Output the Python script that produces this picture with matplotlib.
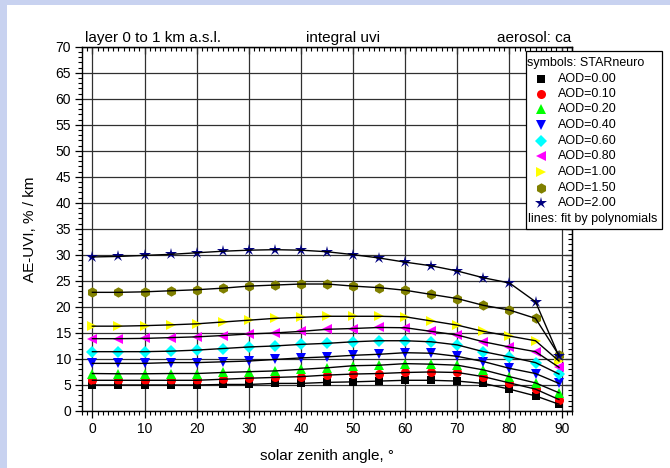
import matplotlib
matplotlib.use("Agg")
import matplotlib.pyplot as plt
from matplotlib.patches import Rectangle
from matplotlib.lines import Line2D
from matplotlib.ticker import MultipleLocator

plt.rcParams['font.family'] = ['Liberation Sans', 'DejaVu Sans']

sza = [0, 5, 10, 15, 20, 25, 30, 35, 40, 45, 50, 55, 60, 65, 70, 75, 80, 85, 89.5]

aod_labels = ["AOD=0.00", "AOD=0.10", "AOD=0.20", "AOD=0.40", "AOD=0.60",
              "AOD=0.80", "AOD=1.00", "AOD=1.50", "AOD=2.00"]

aod_000 = [5.0, 5.0, 5.0, 5.0, 5.0, 5.1, 5.1, 5.3, 5.3, 5.5, 5.6, 5.75, 5.9, 5.9, 5.75, 5.3, 4.2, 2.9, 1.3]
aod_010 = [5.9, 5.9, 5.9, 5.9, 5.9, 6.1, 6.3, 6.45, 6.6, 6.9, 7.1, 7.2, 7.4, 7.5, 7.4, 6.6, 5.4, 4.2, 2.2]
aod_020 = [7.2, 7.15, 7.15, 7.2, 7.2, 7.4, 7.55, 7.7, 8.0, 8.3, 8.7, 8.8, 9.1, 9.0, 8.8, 7.9, 6.6, 5.4, 3.5]
aod_040 = [9.15, 9.15, 9.15, 9.3, 9.3, 9.45, 9.6, 9.9, 10.2, 10.4, 10.7, 10.9, 11.2, 11.1, 10.5, 9.5, 8.2, 7.2, 5.3]
aod_060 = [11.4, 11.4, 11.4, 11.5, 11.7, 12.0, 12.3, 12.5, 12.8, 13.0, 13.3, 13.5, 13.5, 13.3, 12.7, 11.4, 10.4, 9.3, 7.1]
aod_080 = [13.9, 13.9, 13.95, 14.1, 14.25, 14.5, 14.8, 15.0, 15.3, 15.7, 15.85, 16.05, 16.0, 15.3, 14.6, 13.3, 12.3, 11.4, 8.4]
aod_100 = [16.3, 16.3, 16.4, 16.55, 16.75, 17.1, 17.45, 17.8, 18.0, 18.2, 18.2, 18.2, 18.1, 17.3, 16.5, 15.3, 14.4, 13.5, 9.6]
aod_150 = [22.8, 22.8, 22.9, 23.1, 23.3, 23.6, 24.0, 24.2, 24.4, 24.4, 24.0, 23.7, 23.2, 22.4, 21.6, 20.3, 19.4, 17.8, 10.7]
aod_200 = [29.6, 29.7, 29.9, 30.1, 30.4, 30.7, 30.9, 31.0, 30.9, 30.6, 30.05, 29.4, 28.6, 27.9, 26.9, 25.6, 24.6, 21.0, 10.5]

series = [aod_000, aod_010, aod_020, aod_040, aod_060, aod_080, aod_100, aod_150, aod_200]
markers = ['s', 'o', '^', 'v', 'D', '<', '>', 'h', '*']
colors = ['#000000', '#FF0000', '#00FF00', '#0000FF', '#00FFFF', '#FF00FF', '#FFFF00', '#808000', '#000080']
msizes = [5.5, 6.5, 7, 7, 6, 7, 7, 7.5, 9]

W, H = 670, 468
fig = plt.figure(figsize=(W / 100, H / 100), dpi=100)
fig.patch.set_facecolor('#C8D2F0')
fig.add_artist(Rectangle((7 / W, 0), 1, 1 - 5 / H, transform=fig.transFigure,
                         facecolor='white', edgecolor='none', zorder=0))

def fx(px):
    return px / W

def fy(py):
    return 1 - py / H

ax = fig.add_axes([fx(82), fy(411), fx(572) - fx(82), fy(46.7) - fy(411)])
ax.set_xlim(-2, 92)
ax.set_ylim(0, 70)

for ys, m, c, ms in zip(series, markers, colors, msizes):
    ax.plot(sza, ys, linestyle='none', marker=m, color=c, markersize=ms,
            markeredgewidth=0, zorder=3)
    ax.plot(sza, ys, color='black', linewidth=1.0, zorder=4)

ax.xaxis.set_major_locator(MultipleLocator(10))
ax.xaxis.set_minor_locator(MultipleLocator(1))
ax.yaxis.set_major_locator(MultipleLocator(5))
ax.yaxis.set_minor_locator(MultipleLocator(1))
ax.set_xticks(range(0, 91, 10))
ax.grid(True, which='major', color='#303030', linewidth=0.9)
ax.set_axisbelow(True)
ax.tick_params(which='both', direction='out', labelsize=10, colors='black', pad=3)
ax.tick_params(which='major', length=5, width=0.9)
ax.tick_params(which='minor', length=3, width=0.8)
for s in ax.spines.values():
    s.set_linewidth(1.0)

secx = ax.secondary_xaxis('top')
secx.xaxis.set_major_locator(MultipleLocator(10))
secx.xaxis.set_minor_locator(MultipleLocator(1))
secx.tick_params(which='both', direction='in', labeltop=False)
secx.tick_params(which='major', length=5, width=0.9)
secx.tick_params(which='minor', length=3, width=0.8)
secy = ax.secondary_yaxis('right')
secy.yaxis.set_major_locator(MultipleLocator(5))
secy.yaxis.set_minor_locator(MultipleLocator(1))
secy.tick_params(which='both', direction='in', labelright=False)
secy.tick_params(which='major', length=5, width=0.9)
secy.tick_params(which='minor', length=3, width=0.8)

fig.text(fx(85), fy(42), "layer 0 to 1 km a.s.l.", fontsize=11, ha='left', va='baseline')
fig.text(fx(343), fy(42), "integral uvi", fontsize=11, ha='center', va='baseline')
fig.text(fx(571), fy(42), "aerosol: ca", fontsize=11, ha='right', va='baseline')

fig.text(fx(327), fy(456), "solar zenith angle, \u00b0", fontsize=11, ha='center', va='center')
fig.text(fx(30), fy(229), "AE-UVI, % / km", fontsize=11, ha='center', va='center', rotation=90)

# legend
fig.add_artist(Rectangle((fx(526), fy(229)), fx(662) - fx(526), fy(51) - fy(229),
                         transform=fig.transFigure, facecolor='white',
                         edgecolor='black', linewidth=0.9, zorder=10))
fig.text(fx(527), fy(63), "symbols: STARneuro", fontsize=9, ha='left', va='center', zorder=11)
fig.text(fx(528), fy(219), "lines: fit by polynomials", fontsize=9, ha='left', va='center', zorder=11)
rows = [79, 94, 109, 125, 141, 156, 172, 188, 203]
for lab, m, c, ms, ry in zip(aod_labels, markers, colors, msizes, rows):
    fig.add_artist(Line2D([fx(541)], [fy(ry)], transform=fig.transFigure, marker=m,
                          color=c, markersize=ms, markeredgewidth=0, linestyle='none', zorder=11))
    fig.text(fx(558), fy(ry), lab, fontsize=9, ha='left', va='center', zorder=11)

fig.savefig("out.png", dpi=100, facecolor=fig.get_facecolor())
